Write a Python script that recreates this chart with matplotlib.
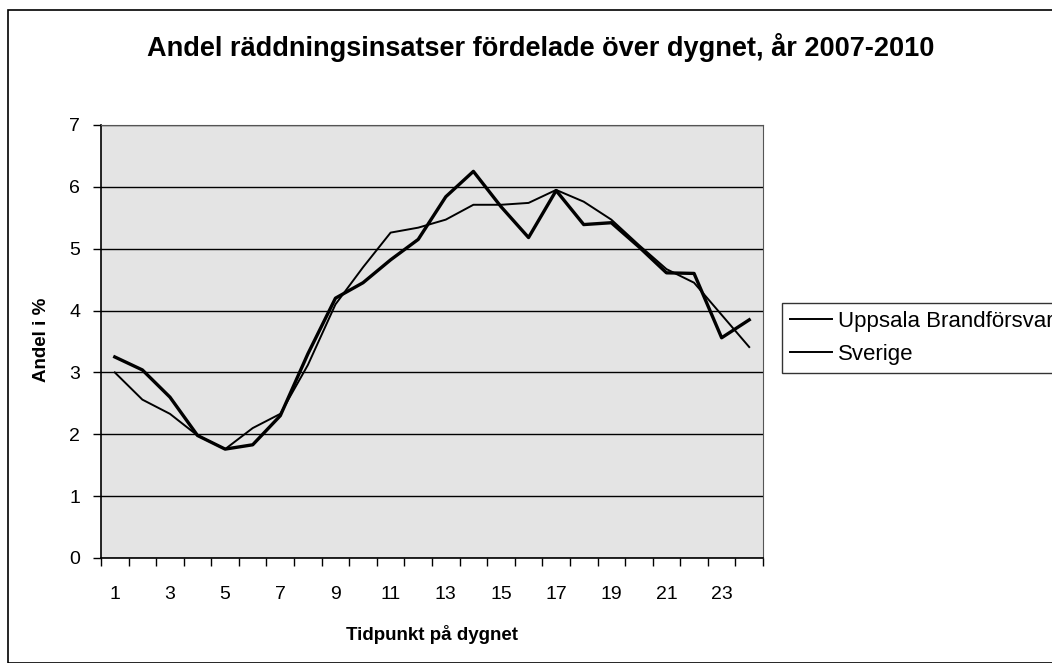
import numpy as np
import matplotlib.pyplot as plt
from matplotlib.patches import Rectangle

plt.rcParams['font.family'] = ['Liberation Sans', 'DejaVu Sans']

# Hour of day (categories) and share of rescue operations in %
hours = list(range(1, 25))
uppsala = [3.25, 3.04, 2.6, 1.98, 1.76, 1.83, 2.3, 3.3, 4.2, 4.45, 4.82, 5.15,
           5.84, 6.25, 5.68, 5.18, 5.94, 5.39, 5.42, 5.03, 4.61, 4.6, 3.56, 3.85]
sverige = [3.0, 2.56, 2.33, 1.98, 1.76, 2.1, 2.33, 3.12, 4.1, 4.7, 5.26, 5.34,
           5.47, 5.71, 5.71, 5.74, 5.95, 5.76, 5.47, 5.06, 4.67, 4.45, 3.93, 3.41]
series_names = ['Uppsala Brandförsvar', 'Sverige']
xtick_labels = [str(h) for h in hours if h % 2 == 1]

fig = plt.figure(figsize=(10.52, 6.63), dpi=100)
ax = fig.add_axes([0.096, 0.1584, 0.6293, 0.6531])
ax.set_facecolor('#e4e4e4')

# outer chart border
fig.patches.append(Rectangle((8 / 1052, 0.0), 1.1, 1 - 10 / 663, transform=fig.transFigure,
                             fill=False, edgecolor='black', linewidth=1.2))

l1, = ax.plot(hours, uppsala, color='black', linewidth=2.4)
l2, = ax.plot(hours, sverige, color='black', linewidth=1.4)

ax.set_xlim(0.5, 24.5)
ax.set_ylim(0, 7)
ax.set_yticks(range(0, 8))
ax.yaxis.grid(True, color='black', linewidth=1.0)
ax.set_axisbelow(True)

ax.set_xticks([h for h in hours if h % 2 == 1])
ax.set_xticklabels(xtick_labels)
ax.set_xticks(np.arange(0.5, 25, 1), minor=True)
ax.tick_params(axis='x', which='major', length=0, pad=20, labelsize=14)
ax.tick_params(axis='x', which='minor', length=6, width=1, direction='out')
ax.tick_params(axis='y', length=6, width=1, direction='out', pad=9, labelsize=14)

for side in ['top', 'right']:
    ax.spines[side].set_linewidth(0.8)
    ax.spines[side].set_color('#555555')
for side in ['left', 'bottom']:
    ax.spines[side].set_linewidth(1.2)

fig.text(0.514, 0.929, 'Andel räddningsinsatser fördelade över dygnet, år 2007-2010',
         ha='center', va='center', fontsize=19.5, fontweight='bold')
fig.text(432 / 1052, 1 - 634 / 663, 'Tidpunkt på dygnet',
         ha='center', va='center', fontsize=13.5, fontweight='bold')
fig.text(42 / 1052, 1 - 340 / 663, 'Andel i %', rotation=90,
         ha='center', va='center', fontsize=13.5, fontweight='bold')

leg = fig.legend([l1, l2], series_names, loc='upper left',
                 bbox_to_anchor=(782 / 1052, 1 - 303 / 663), borderaxespad=0,
                 frameon=True, fontsize=16, handlelength=1.9, handletextpad=0.25,
                 borderpad=0.35, labelspacing=0.55, fancybox=False)
leg.get_frame().set_edgecolor('black')
leg.get_frame().set_linewidth(1.0)
for h in leg.get_lines():
    h.set_linewidth(1.4)

fig.savefig('out.png', dpi=100)
